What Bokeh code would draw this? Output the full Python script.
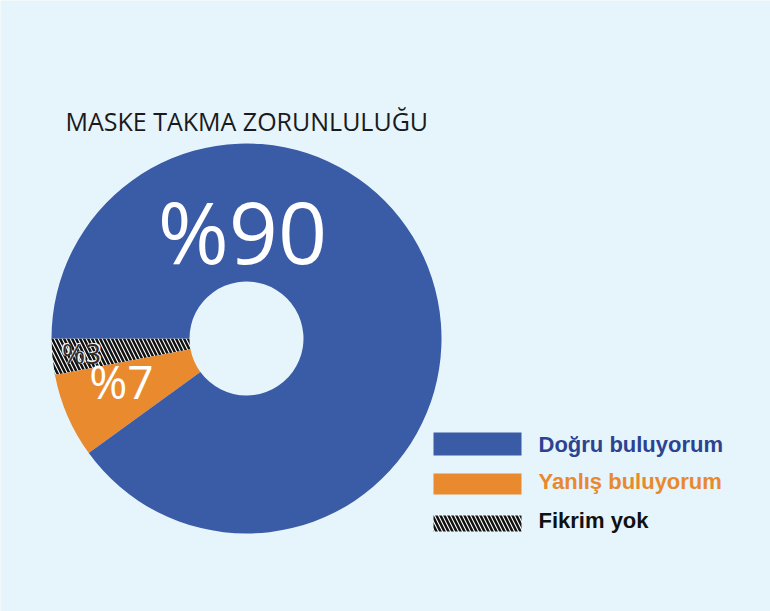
import math
from bokeh.plotting import figure
from bokeh.models import Range1d
from bokeh.core.properties import value
from bokeh.embed import file_html
from bokeh.resources import INLINE

title = "MASKE TAKMA ZORUNLULUĞU"
categories = ["Fikrim yok", "Yanlış buluyorum", "Doğru buluyorum"]
percents = [3, 7, 90]
colors = ["#ffffff", "#e98a2e", "#3a5ba6"]
label_colors = ["#2b2b2b", "#ffffff", "#ffffff"]
legend_text_colors = ["#111111", "#e8892d", "#2c4391"]

BG = "#e6f4fc"
W, H = 770, 611
p = figure(width=W, height=H, output_backend="svg", toolbar_location=None,
           x_range=Range1d(0, W), y_range=Range1d(0, H), min_border=0,
           background_fill_color=BG, border_fill_color=BG, outline_line_color=None)
p.axis.visible = False
p.grid.visible = False

cx, cy = 246, 273
r_out, r_in = 195, 57
HATCH = dict(hatch_pattern="\\", hatch_color="#111111", hatch_scale=8, hatch_weight=2.5)

# wedges: start at pi (left), go counterclockwise
total = sum(percents)
starts, ends = [], []
a = math.pi
for v in percents:
    starts.append(a)
    a += v / total * 2 * math.pi
    ends.append(a)

for i in range(len(categories)):
    kw = HATCH if i == 0 else {}
    p.annular_wedge(x=cx, y=cy, inner_radius=r_in, outer_radius=r_out,
                    start_angle=starts[i], end_angle=ends[i],
                    fill_color=colors[i], line_color=None, **kw)

# percentage labels
labels = ["%" + str(v) for v in percents]
label_pos = [(81, 259), (121, 231), (242, 381)]
label_sizes = ["28px", "46px", "86px"]
# light halo under the small label on the hatched slice
p.text(x=[label_pos[0][0]], y=[label_pos[0][1]], text=[labels[0]],
       text_color="#f2f2f2", text_font=value("Open Sans"), text_font_style="bold",
       text_font_size=label_sizes[0], text_align="center", text_baseline="middle")
for i in range(len(labels)):
    p.text(x=[label_pos[i][0]], y=[label_pos[i][1]], text=[labels[i]],
           text_color=label_colors[i], text_font=value("Open Sans"),
           text_font_size=label_sizes[i], text_align="center", text_baseline="middle")

# title
p.text(x=[65], y=[491], text=[title], text_color="#1a1a1a", text_font=value("Open Sans"),
       text_font_size="25px", text_align="left", text_baseline="middle")

# legend
leg_order = [2, 1, 0]
leg_boxes = [(156, 179), (117, 138), (80, 96)]
leg_mid = [167, 130, 91]
for k, i in enumerate(leg_order):
    b, t = leg_boxes[k]
    kw = HATCH if i == 0 else {}
    p.quad(left=433, right=521, bottom=b, top=t, fill_color=colors[i], line_color=None, **kw)
    p.text(x=[538], y=[leg_mid[k]], text=[categories[i]], text_color=legend_text_colors[i],
           text_font=value("Liberation Sans"), text_font_style="bold", text_font_size="22px",
           text_align="left", text_baseline="middle")

open("out.html", "w").write(file_html(p, INLINE))
